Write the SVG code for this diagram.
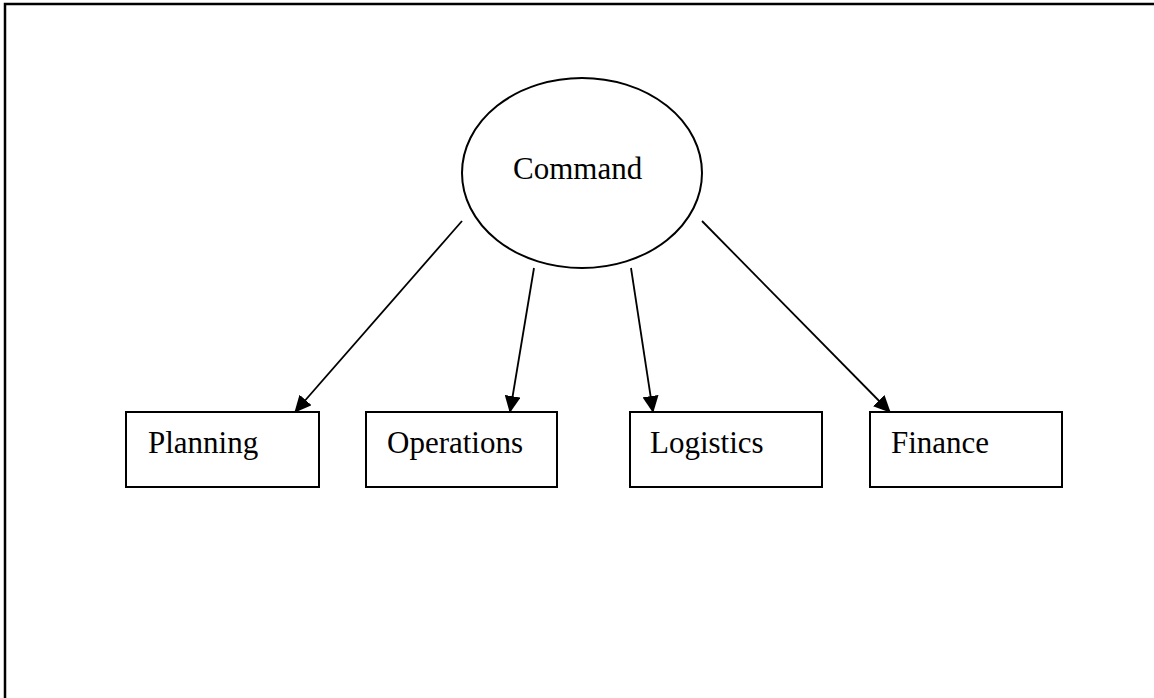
<svg xmlns="http://www.w3.org/2000/svg" width="1154" height="698" viewBox="0 0 1154 698">
<style>
.node{fill:#fff;stroke:#000;stroke-width:2}
.lbl{font-family:"Liberation Serif","Times New Roman",serif;font-size:31px;fill:#000}
.edge{stroke:#000;stroke-width:1.8;fill:none}
</style>
<defs>
<marker id="arr" markerUnits="userSpaceOnUse" markerWidth="17" markerHeight="16" viewBox="0 0 17 16" refX="16" refY="8" orient="auto">
<path d="M0,0 L17,8 L0,16 Z" fill="#000"/>
</marker>
</defs>
<rect x="0" y="0" width="1154" height="698" fill="#fff"/>
<path d="M5,698 L5,4 L1154,4" fill="none" stroke="#000" stroke-width="2.5"/>
<g id="connectors">
<line class="edge" x1="462" y1="221" x2="295" y2="412" marker-end="url(#arr)"/>
<line class="edge" x1="534" y1="268" x2="510" y2="412" marker-end="url(#arr)"/>
<line class="edge" x1="631" y1="268" x2="653" y2="412" marker-end="url(#arr)"/>
<line class="edge" x1="702" y1="221" x2="890" y2="412" marker-end="url(#arr)"/>
</g>
<g id="command">
<ellipse class="node" cx="582" cy="173" rx="120" ry="95" stroke-width="1.8"/>
<text class="lbl" x="513" y="179">Command</text>
</g>
<g id="planning">
<rect class="node" x="126" y="412" width="193" height="75"/>
<text class="lbl" x="148" y="453">Planning</text>
</g>
<g id="operations">
<rect class="node" x="366" y="412" width="191" height="75"/>
<text class="lbl" x="387" y="453">Operations</text>
</g>
<g id="logistics">
<rect class="node" x="630" y="412" width="192" height="75"/>
<text class="lbl" x="650" y="453">Logistics</text>
</g>
<g id="finance">
<rect class="node" x="870" y="412" width="192" height="75"/>
<text class="lbl" x="891" y="453">Finance</text>
</g>
</svg>
